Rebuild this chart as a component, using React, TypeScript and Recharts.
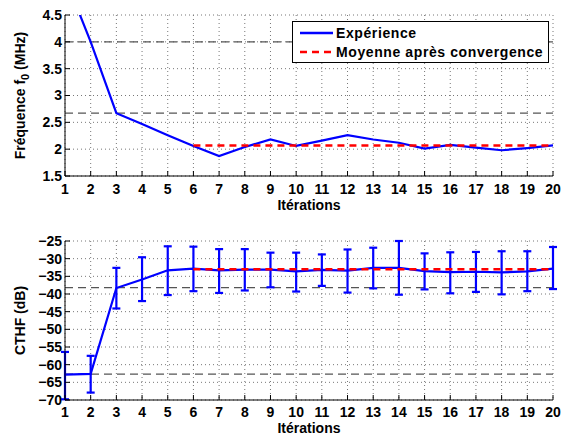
import React from "react";
import {
  LineChart,
  Line,
  XAxis,
  YAxis,
  CartesianGrid,
  ReferenceLine,
  ErrorBar,
  Label,
  Legend,
} from "recharts";

const ITERATIONS = [1, 2, 3, 4, 5, 6, 7, 8, 9, 10, 11, 12, 13, 14, 15, 16, 17, 18, 19, 20];

// top panel : fréquence f0 (MHz)
const FREQ = [5.2, 4.0, 2.67, 2.47, 2.26, 2.06, 1.87, 2.04, 2.18, 2.06, 2.16, 2.26, 2.18, 2.12, 2.01, 2.08, 2.03, 1.98, 2.02, 2.07];
const FREQ_MEAN = 2.07;
const FREQ_REFS = [4.0, 2.67];
const FREQ_TICKS = [1.5, 2, 2.5, 3, 3.5, 4, 4.5];

// bottom panel : CTHF (dB) with error bars
const CTHF = [-62.8, -62.6, -38.3, -35.9, -33.3, -32.8, -33.3, -33.1, -33.1, -33.6, -33.2, -33.4, -32.6, -32.6, -33.5, -33.8, -33.7, -33.9, -33.6, -32.8];
const CTHF_HIGH = [-56.4, -57.5, -32.6, -29.6, -26.5, -26.6, -27.3, -27.3, -28.3, -28.3, -28.8, -27.4, -26.9, -25.0, -28.5, -28.2, -28.1, -27.9, -27.9, -26.7];
const CTHF_LOW = [-69.8, -67.9, -44.1, -42.0, -40.3, -39.2, -39.7, -39.0, -38.1, -39.3, -37.7, -39.6, -38.4, -40.2, -38.7, -39.8, -39.4, -40.1, -39.2, -38.6];
const CTHF_MEAN = -33.0;
const CTHF_REFS = [-38.2, -62.7];
const CTHF_TICKS = [-70, -65, -60, -55, -50, -45, -40, -35, -30, -25];

const MEAN_START = 6;

const LEGEND = [
  { name: "Expérience", color: "#0000ff", dash: "" },
  { name: "Moyenne après convergence", color: "#ff0000", dash: "7 5" },
];

const FONT = "'Liberation Sans', Arial, Helvetica, sans-serif";
const TICK = { fill: "#000", fontSize: 14, fontWeight: "bold", fontFamily: FONT };
const AXIS_LINE = { stroke: "#000", strokeWidth: 1 };
const TICK_LINE = { stroke: "#000", strokeWidth: 1 };

const freqData = ITERATIONS.map((it, i) => ({
  it,
  f: FREQ[i],
  mean: it >= MEAN_START ? FREQ_MEAN : null,
}));

const cthfData = ITERATIONS.map((it, i) => ({
  it,
  c: CTHF[i],
  err: [CTHF[i] - CTHF_LOW[i], CTHF_HIGH[i] - CTHF[i]],
  mean: it >= MEAN_START ? CTHF_MEAN : null,
}));

const fmtMinus = (v: number) => String(v).replace("-", "\u2212");
const blank = () => "";

function yTitle(main: string, sub: string, rest: string) {
  return (props: any) => {
    const vb = props.viewBox || {};
    const cx = vb.x + 20;
    const cy = vb.y + vb.height / 2;
    return (
      <text
        x={cx}
        y={cy}
        transform={`rotate(-90, ${cx}, ${cy})`}
        textAnchor="middle"
        dominantBaseline="central"
        fontFamily={FONT}
        fontWeight="bold"
        fontSize={14}
        fill="#000"
      >
        {main}
        {sub ? (
          <tspan fontSize={11} dy={5}>
            {sub}
          </tspan>
        ) : null}
        <tspan dy={sub ? -5 : 0}>{rest}</tspan>
      </text>
    );
  };
}

function renderLegend() {
  return (
    <div
      style={{
        background: "#fff",
        border: "1px solid #000",
        padding: "1px 2px 1px 7px",
        fontFamily: FONT,
        fontWeight: "bold",
        fontSize: 14,
        letterSpacing: 0.6,
        color: "#000",
        boxSizing: "border-box",
        height: 42,
      }}
    >
      {LEGEND.map((e) => (
        <div key={e.name} style={{ display: "flex", alignItems: "center", height: 19 }}>
          <svg width={35} height={6} style={{ marginRight: 1, flexShrink: 0 }}>
            <line x1={0} y1={3} x2={33} y2={3} stroke={e.color} strokeWidth={2.5} strokeDasharray={e.dash || undefined} />
          </svg>
          <span style={{ whiteSpace: "nowrap" }}>{e.name}</span>
        </div>
      ))}
    </div>
  );
}

export default function App() {
  return (
    <div style={{ position: "absolute", left: 0, top: 0, width: 562, height: 439, background: "#fff" }}>
      <LineChart width={562} height={220} data={freqData} margin={{ top: 15, right: 9, bottom: 0, left: 0 }}>
        <CartesianGrid stroke="#777" strokeDasharray="1 3" />
        <XAxis
          dataKey="it"
          type="number"
          domain={[1, 20]}
          ticks={ITERATIONS}
          interval={0}
          allowDataOverflow
          height={44}
          tick={TICK}
          axisLine={AXIS_LINE}
          tickLine={TICK_LINE}
          tickSize={-5}
          tickMargin={13}
        >
          <Label value="Itérations" position="insideBottom" offset={10} style={TICK} />
        </XAxis>
        <XAxis
          xAxisId="top"
          orientation="top"
          dataKey="it"
          type="number"
          domain={[1, 20]}
          ticks={ITERATIONS}
          interval={0}
          height={0}
          tickFormatter={blank}
          axisLine={AXIS_LINE}
          tickLine={TICK_LINE}
          tickSize={-5}
        />
        <YAxis
          type="number"
          domain={[1.5, 4.5]}
          ticks={FREQ_TICKS}
          interval={0}
          allowDataOverflow
          width={65}
          tick={TICK}
          axisLine={AXIS_LINE}
          tickLine={TICK_LINE}
          tickSize={-5}
          tickMargin={8}
        >
          <Label content={yTitle("Fréquence f", "0", " (MHz)")} />
        </YAxis>
        <YAxis
          yAxisId="right"
          orientation="right"
          type="number"
          domain={[1.5, 4.5]}
          ticks={FREQ_TICKS}
          interval={0}
          width={0}
          tickFormatter={blank}
          axisLine={AXIS_LINE}
          tickLine={TICK_LINE}
          tickSize={-5}
        />
        {FREQ_REFS.map((y) => (
          <ReferenceLine key={y} y={y} stroke="#555" strokeWidth={1.2} strokeDasharray="8 5" />
        ))}
        <Line dataKey="f" stroke="#0000ff" strokeWidth={2.2} dot={false} isAnimationActive={false} />
        <Line dataKey="mean" stroke="#ff0000" strokeWidth={2.5} strokeDasharray="7 5" dot={false} isAnimationActive={false} />
        <Legend
          layout="vertical"
          align="center"
          verticalAlign="middle"
          content={renderLegend}
          wrapperStyle={{ top: 21, left: 292, width: 257, height: 42 }}
        />
      </LineChart>

      <LineChart width={562} height={219} data={cthfData} margin={{ top: 21, right: 9, bottom: 0, left: 0 }}>
        <CartesianGrid stroke="#777" strokeDasharray="1 3" />
        <XAxis
          dataKey="it"
          type="number"
          domain={[1, 20]}
          ticks={ITERATIONS}
          interval={0}
          allowDataOverflow
          height={39}
          tick={TICK}
          axisLine={AXIS_LINE}
          tickLine={TICK_LINE}
          tickSize={-5}
          tickMargin={12}
        >
          <Label value="Itérations" position="insideBottom" offset={6} style={TICK} />
        </XAxis>
        <XAxis
          xAxisId="top"
          orientation="top"
          dataKey="it"
          type="number"
          domain={[1, 20]}
          ticks={ITERATIONS}
          interval={0}
          height={0}
          tickFormatter={blank}
          axisLine={AXIS_LINE}
          tickLine={TICK_LINE}
          tickSize={-5}
        />
        <YAxis
          type="number"
          domain={[-70, -25]}
          ticks={CTHF_TICKS}
          interval={0}
          allowDataOverflow
          width={65}
          tick={TICK}
          tickFormatter={fmtMinus}
          axisLine={AXIS_LINE}
          tickLine={TICK_LINE}
          tickSize={-5}
          tickMargin={8}
        >
          <Label content={yTitle("CTHF (dB)", "", "")} />
        </YAxis>
        <YAxis
          yAxisId="right"
          orientation="right"
          type="number"
          domain={[-70, -25]}
          ticks={CTHF_TICKS}
          interval={0}
          width={0}
          tickFormatter={blank}
          axisLine={AXIS_LINE}
          tickLine={TICK_LINE}
          tickSize={-5}
        />
        {CTHF_REFS.map((y) => (
          <ReferenceLine key={y} y={y} stroke="#555" strokeWidth={1.2} strokeDasharray="8 5" />
        ))}
        <Line dataKey="c" stroke="#0000ff" strokeWidth={2.2} dot={false} isAnimationActive={false}>
          <ErrorBar dataKey="err" direction="y" width={4} stroke="#0000ff" strokeWidth={2.2} isAnimationActive={false} />
        </Line>
        <Line dataKey="mean" stroke="#ff0000" strokeWidth={2.5} strokeDasharray="7 5" dot={false} isAnimationActive={false} />
      </LineChart>
    </div>
  );
}
